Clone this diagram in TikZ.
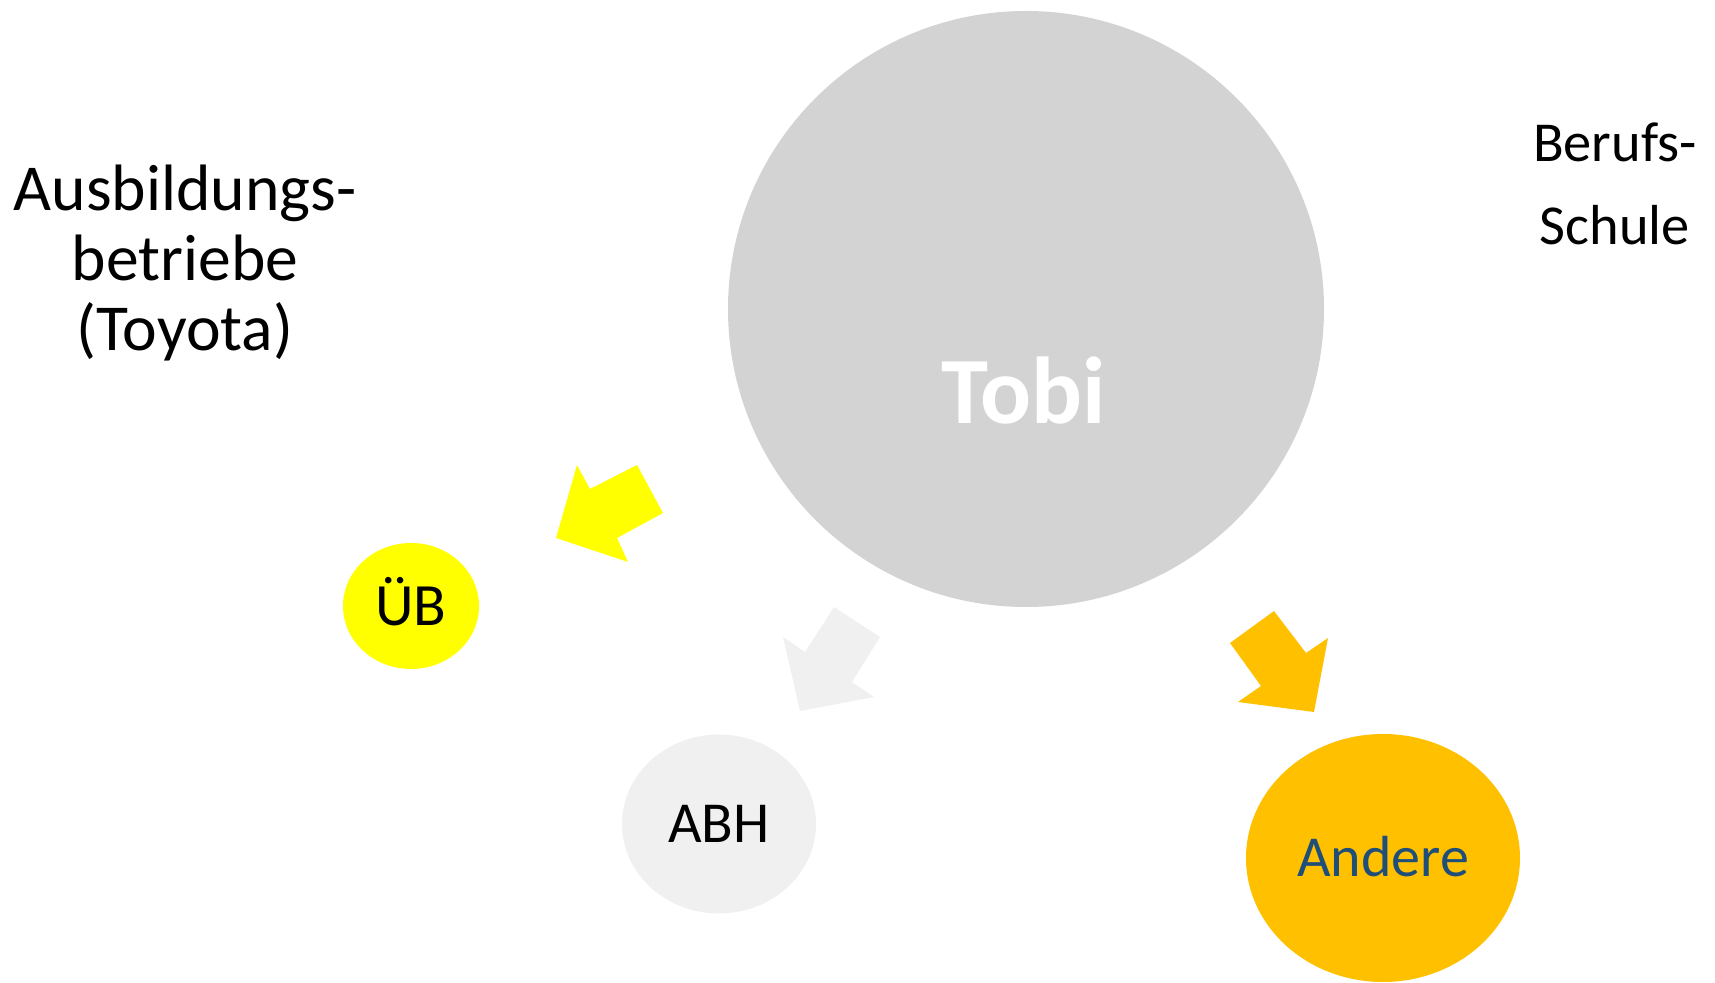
\documentclass[tikz,border=0pt]{standalone}
\usepackage{fontspec}
\setmainfont{Carlito}
\usetikzlibrary{shapes.geometric}
\usetikzlibrary{positioning}
\definecolor{tobigray}{HTML}{D3D3D3}
\definecolor{uebyellow}{HTML}{FFFF00}
\definecolor{abhgray}{HTML}{F0F0F0}
\definecolor{andereorange}{HTML}{FFC000}
\definecolor{anderetext}{HTML}{1F4E79}

\begin{document}
\begin{tikzpicture}[x=0.5pt,y=-0.5pt,
		blob/.style={ellipse,inner sep=0pt,text depth=0pt},
		caption/.style={align=center,inner sep=0pt}]
			\useasboundingbox (0,0) rectangle (1715,983);
			\node[circle,fill=tobigray,minimum size=298pt,inner sep=0pt] (tobi) at (1026,309) {};
			\node[anchor=base,text=white,font=\fontsize{47.5}{50}\selectfont\bfseries] (tobitext) at (1024,424) {Tobi};
			\node[blob,fill=uebyellow,minimum width=68pt,minimum height=63pt,text height=19.3pt,font=\fontsize{30}{34}\selectfont] (ueb) at (411,606) {ÜB};
			\node[blob,fill=abhgray,minimum width=97pt,minimum height=89.5pt,text height=18.7pt,font=\fontsize{29}{33}\selectfont] (abh) at (719,824) {ABH};
			\node[blob,fill=andereorange,minimum width=137pt,minimum height=124pt,text height=18.7pt,text=anderetext,font=\fontsize{29}{33}\selectfont] (andere) at (1383,858) {Andere};
			\node[caption,font=\fontsize{32.8}{35}\selectfont] (betrieb) at (185,263) {Ausbildungs-\\betriebe\\(Toyota)};
			\node[caption,font=\fontsize{28.2}{41.5}\selectfont] (schule) at (1615,184) {Berufs-\\Schule};
			\fill[uebyellow] (556,538) -- (577,465) -- (590,489) -- (637,465) -- (663,513) -- (617,538) -- (628,562) -- cycle;
			\fill[abhgray] (800,711) -- (783,637) -- (805,652) -- (834,607) -- (880,637) -- (852,682) -- (874,697) -- cycle;
			\fill[andereorange] (1314,712) -- (1238,702) -- (1261,686) -- (1230,643) -- (1274,611) -- (1306,653) -- (1328,638) -- cycle;
\end{tikzpicture}
\end{document}
